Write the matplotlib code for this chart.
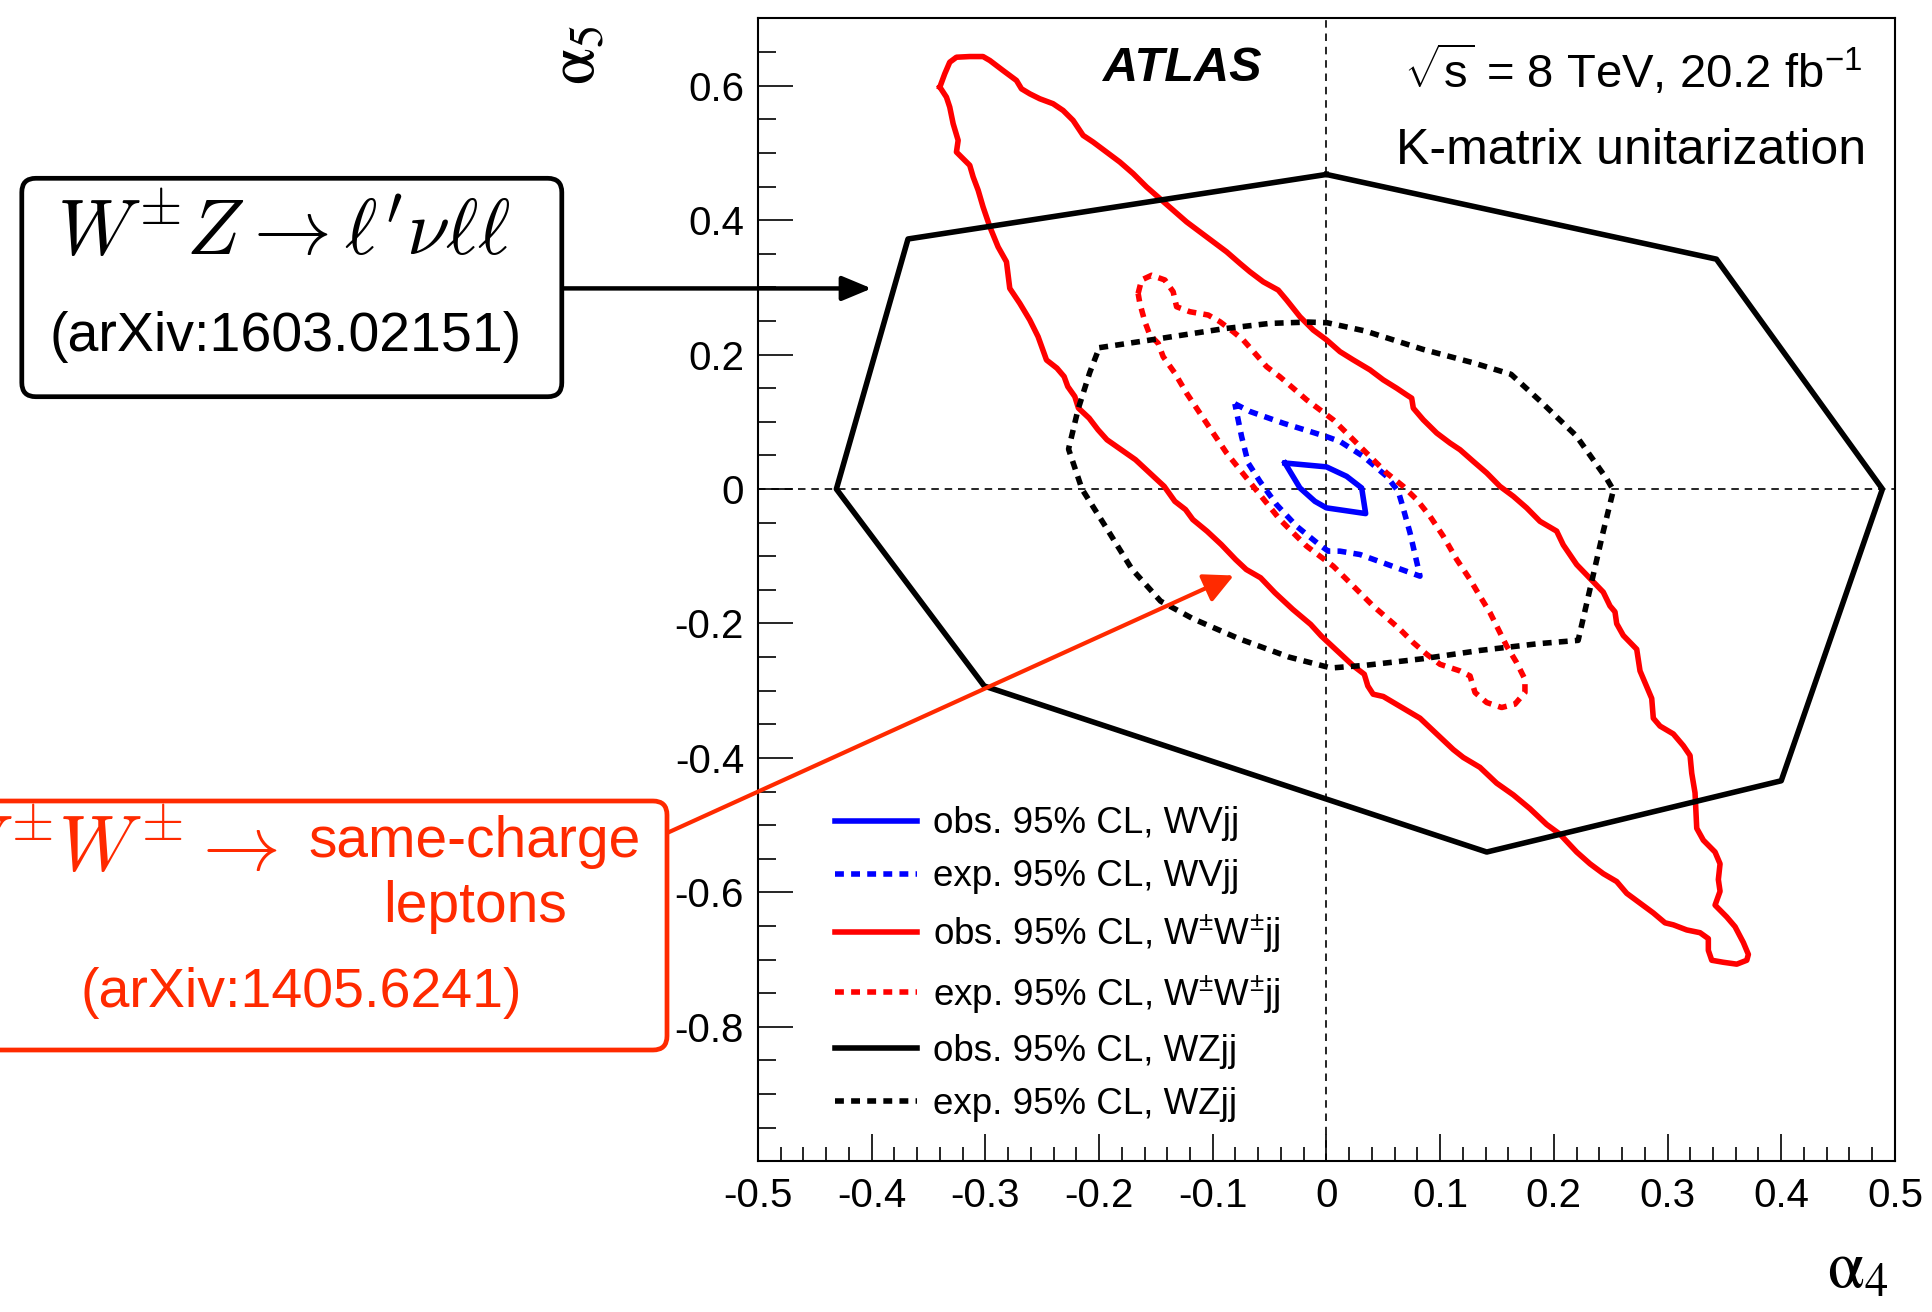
import numpy as np
import matplotlib
matplotlib.use("Agg")
import matplotlib.pyplot as plt
from matplotlib.patches import FancyBboxPatch
from matplotlib.ticker import FixedLocator, MultipleLocator, FuncFormatter

plt.rcParams['font.family'] = ['Liberation Sans', 'DejaVu Sans']
plt.rcParams['mathtext.fontset'] = 'custom'
plt.rcParams['mathtext.rm'] = 'Liberation Sans'
plt.rcParams['mathtext.it'] = 'Liberation Sans:italic'
plt.rcParams['mathtext.bf'] = 'Liberation Sans:bold'

# 95% CL contours in the (alpha4, alpha5) plane, K-matrix unitarization
wv_obs = [(-0.0365, 0.0387), (0.0, 0.033), (0.0178, 0.0189), (0.031, 0.0016),
          (0.0345, -0.0365), (0.0, -0.028), (-0.0101, -0.0183), (-0.0233, 0.0016)]

wv_exp = [(-0.0805, 0.1268), (-0.0673, 0.1154), (-0.038, 0.098), (0.0, 0.078),
          (0.0119, 0.0708), (0.0324, 0.0486), (0.053, 0.0189), (0.0632, -0.0034),
          (0.0662, -0.0206), (0.0735, -0.065), (0.0823, -0.1296), (0.0295, -0.0974),
          (0.0119, -0.0924), (0.0016, -0.0924), (-0.0072, -0.0815), (-0.0262, -0.0553),
          (-0.0438, -0.0232), (-0.0585, 0.0114), (-0.0688, 0.0387), (-0.0746, 0.078)]

ww_obs = [(-0.340, 0.598), (-0.3357, 0.6177), (-0.3313, 0.635), (-0.3254, 0.6424),
          (-0.3137, 0.6434), (-0.302, 0.6434), (-0.296, 0.6375), (-0.2844, 0.6226),
          (-0.2726, 0.6078), (-0.2682, 0.5954), (-0.2609, 0.588), (-0.2521, 0.5806),
          (-0.2404, 0.5732), (-0.2316, 0.5632), (-0.2228, 0.5484), (-0.214, 0.5261),
          (-0.2052, 0.5162), (-0.1934, 0.5013), (-0.1817, 0.4865), (-0.170, 0.4693),
          (-0.1582, 0.4494), (-0.1465, 0.4321), (-0.1348, 0.4148), (-0.123, 0.3974),
          (-0.1113, 0.3826), (-0.0996, 0.3677), (-0.0878, 0.3529), (-0.0761, 0.3357),
          (-0.0673, 0.3232), (-0.0556, 0.3083), (-0.0424, 0.296), (-0.035, 0.2812),
          (-0.0233, 0.2564), (-0.0116, 0.2366), (0.0002, 0.2218), (0.0119, 0.2044),
          (0.0236, 0.1921), (0.0383, 0.1773), (0.05, 0.1624), (0.0618, 0.150),
          (0.0706, 0.140), (0.075, 0.1352), (0.0764, 0.1204), (0.0852, 0.103),
          (0.097, 0.0833), (0.1087, 0.0684), (0.1175, 0.0585), (0.1292, 0.0411),
          (0.141, 0.0239), (0.1526, 0.004), (0.1644, -0.0108), (0.1761, -0.0280),
          (0.1878, -0.048), (0.2025, -0.0626), (0.2083, -0.0831), (0.2201, -0.1124),
          (0.2318, -0.1329), (0.2435, -0.1534), (0.2494, -0.1739), (0.2538, -0.1827),
          (0.2553, -0.2003), (0.2611, -0.2178), (0.2729, -0.2383), (0.2758, -0.2705),
          (0.2817, -0.294), (0.2861, -0.3115), (0.2875, -0.3409), (0.2934, -0.3526),
          (0.3051, -0.3643), (0.3139, -0.3818), (0.3198, -0.3964), (0.3213, -0.4228),
          (0.3242, -0.452), (0.3257, -0.5047), (0.3315, -0.5224), (0.3418, -0.54),
          (0.3462, -0.5575), (0.3447, -0.5809), (0.3462, -0.5984), (0.3418, -0.619),
          (0.3521, -0.6366), (0.3594, -0.6511), (0.3667, -0.6746), (0.3711, -0.6923),
          (0.3697, -0.701), (0.3609, -0.7068), (0.3491, -0.704), (0.3389, -0.701),
          (0.3359, -0.6863), (0.3359, -0.6688), (0.3286, -0.66), (0.3169, -0.6559),
          (0.3051, -0.6483), (0.2978, -0.6453), (0.2875, -0.6306), (0.2758, -0.6161),
          (0.2641, -0.6014), (0.2553, -0.5839), (0.2435, -0.5722), (0.2318, -0.5575),
          (0.2201, -0.54), (0.2054, -0.5135), (0.1937, -0.499), (0.179, -0.4755),
          (0.1644, -0.455), (0.1497, -0.4375), (0.135, -0.414), (0.1204, -0.3993),
          (0.1116, -0.3876), (0.097, -0.3643), (0.0823, -0.3409), (0.0647, -0.3232),
          (0.05, -0.3086), (0.0411, -0.3052), (0.0364, -0.2929), (0.0333, -0.2755),
          (0.0238, -0.2632), (0.0144, -0.2484), (0.0018, -0.2285), (-0.0045, -0.2187),
          (-0.0139, -0.2013), (-0.0296, -0.179), (-0.0453, -0.1543), (-0.0579, -0.132),
          (-0.0705, -0.1197), (-0.0799, -0.1048), (-0.0925, -0.0825), (-0.105, -0.0628),
          (-0.1175, -0.0454), (-0.1239, -0.0306), (-0.1333, -0.0183), (-0.1427, 0.004),
          (-0.1553, 0.0239), (-0.1679, 0.0436), (-0.1805, 0.0585), (-0.193, 0.0733),
          (-0.2009, 0.0882), (-0.2087, 0.1055), (-0.2181, 0.1204), (-0.2213, 0.1376),
          (-0.2275, 0.1525), (-0.2307, 0.1673), (-0.237, 0.1798), (-0.2462, 0.192),
          (-0.2536, 0.2267), (-0.2609, 0.2515), (-0.2697, 0.2763), (-0.2785, 0.2985),
          (-0.2814, 0.338), (-0.2888, 0.3603), (-0.296, 0.39), (-0.302, 0.4197),
          (-0.3063, 0.4445), (-0.3107, 0.4642), (-0.3137, 0.4816), (-0.3225, 0.4964),
          (-0.3254, 0.5013), (-0.3239, 0.5187), (-0.3283, 0.5435), (-0.3313, 0.5682),
          (-0.3342, 0.583)]

ww_exp = [(-0.1656, 0.291), (-0.1626, 0.311), (-0.1538, 0.318), (-0.1421, 0.311),
          (-0.1348, 0.2935), (-0.1318, 0.2712), (-0.1201, 0.2638), (-0.104, 0.2589),
          (-0.0937, 0.249), (-0.082, 0.234), (-0.0732, 0.2218), (-0.0629, 0.202),
          (-0.0526, 0.182), (-0.0409, 0.167), (-0.0292, 0.150), (-0.0174, 0.1327),
          (-0.0057, 0.1179), (0.006, 0.103), (0.0178, 0.0833), (0.0295, 0.0634),
          (0.0412, 0.0436), (0.053, 0.0239), (0.0676, 0.004), (0.0794, -0.0157),
          (0.0911, -0.0405), (0.1028, -0.0702), (0.1146, -0.1048), (0.1263, -0.1345),
          (0.135, -0.1593), (0.1439, -0.184), (0.1512, -0.2087), (0.1585, -0.2335),
          (0.1673, -0.2582), (0.1746, -0.283), (0.1746, -0.3027), (0.1658, -0.320),
          (0.1541, -0.325), (0.141, -0.3176), (0.1307, -0.3027), (0.1263, -0.278),
          (0.1175, -0.2706), (0.0999, -0.2607), (0.0882, -0.2458), (0.0764, -0.2285),
          (0.0647, -0.2087), (0.053, -0.1914), (0.0412, -0.1741), (0.0295, -0.1543),
          (0.0178, -0.1345), (0.006, -0.1147), (-0.0057, -0.0999), (-0.0174, -0.085),
          (-0.0292, -0.0652), (-0.0409, -0.0454), (-0.0526, -0.0207), (-0.0644, 0.004),
          (-0.0761, 0.0288), (-0.0878, 0.0536), (-0.0996, 0.0833), (-0.1113, 0.113),
          (-0.123, 0.1427), (-0.1333, 0.1724), (-0.1436, 0.197), (-0.148, 0.2169),
          (-0.1553, 0.2292), (-0.1597, 0.249), (-0.1641, 0.2763)]

wz_obs = [(0.0, 0.468), (0.343, 0.342), (0.489, 0.0), (0.400, -0.434),
          (0.141, -0.540), (-0.301, -0.293), (-0.431, 0.0), (-0.368, 0.372)]

wz_exp = [(-0.1998, 0.2103), (-0.151, 0.2227), (-0.0903, 0.2385), (-0.0499, 0.2464),
          (-0.0162, 0.2484), (0.0007, 0.2474), (0.0344, 0.235), (0.0849, 0.2078),
          (0.1287, 0.188), (0.1624, 0.1707), (0.1894, 0.1287), (0.2197, 0.0792),
          (0.2467, 0.0148), (0.2524, -0.0015), (0.2433, -0.0643), (0.2332, -0.1385),
          (0.2214, -0.2251), (0.186, -0.2301), (0.1355, -0.24), (0.0849, -0.2524),
          (0.0344, -0.2622), (0.004, -0.2662), (-0.033, -0.2499), (-0.0768, -0.2227),
          (-0.1173, -0.193), (-0.1459, -0.1667), (-0.1712, -0.1188), (-0.1948, -0.0544),
          (-0.215, 0.0), (-0.2268, 0.0594), (-0.2184, 0.1188), (-0.2082, 0.1732)]

labels = ['obs. 95% CL, WVjj', 'exp. 95% CL, WVjj',
          'obs. 95% CL, W$^{\\pm}$W$^{\\pm}$jj', 'exp. 95% CL, W$^{\\pm}$W$^{\\pm}$jj',
          'obs. 95% CL, WZjj', 'exp. 95% CL, WZjj']

xmajor = np.round(np.arange(-0.5, 0.51, 0.1), 2)
ymajor = np.round(np.arange(-0.8, 0.61, 0.2), 2)

red_note = '#ff2a00'
dotted = (0, (1.6, 1.3))

fig = plt.figure(figsize=(19.33, 13.12), dpi=100)
ax = fig.add_axes([0.3921, 0.1149, 0.5882, 0.8710])


def closed(pts):
    a = np.array(pts + pts[:1])
    return a[:, 0], a[:, 1]


ax.axhline(0, color='black', lw=1.2, dashes=(4.5, 3.5), zorder=1)
ax.axvline(0, color='black', lw=1.2, dashes=(4.5, 3.5), zorder=1)

lw = 4.0
styles = [(wv_obs, 'blue', '-'), (wv_exp, 'blue', dotted),
          (ww_obs, 'red', '-'), (ww_exp, 'red', dotted),
          (wz_obs, 'black', '-'), (wz_exp, 'black', dotted)]
handles = []
for (pts, col, ls), lab in zip(styles, labels):
    x, y = closed(pts)
    h, = ax.plot(x, y, color=col, ls=ls, lw=lw, label=lab, zorder=3,
                 dash_capstyle='butt', solid_joinstyle='round')
    handles.append(h)

ax.set_xlim(-0.5, 0.5)
ax.set_ylim(-1.0, 0.7)
ax.xaxis.set_major_locator(FixedLocator(xmajor))
ax.xaxis.set_minor_locator(MultipleLocator(0.02))
ax.yaxis.set_major_locator(FixedLocator(ymajor))
ax.yaxis.set_minor_locator(MultipleLocator(0.05))


def rootfmt(v, pos):
    v = round(v, 2)
    return '0' if v == 0 else '%g' % v


ax.xaxis.set_major_formatter(FuncFormatter(rootfmt))
ax.yaxis.set_major_formatter(FuncFormatter(rootfmt))
ax.tick_params(which='both', direction='in', top=False, right=False, width=1.2)
ax.tick_params(axis='x', which='major', length=19.5, pad=11, labelsize=29)
ax.tick_params(axis='x', which='minor', length=10)
ax.tick_params(axis='y', which='major', length=25, pad=10, labelsize=29)
ax.tick_params(axis='y', which='minor', length=13)
for sp in ax.spines.values():
    sp.set_linewidth(1.5)

ax.text(-0.127, 0.626, 'ATLAS', fontsize=35, fontweight='bold', fontstyle='italic',
        ha='center', va='center')
ax.text(0.270, 0.622, r'$\sqrt{\mathrm{s}}$ = 8 TeV, 20.2 fb$^{-1}$', fontsize=34,
        ha='center', va='center')
ax.text(0.268, 0.503, 'K-matrix unitarization', fontsize=36, ha='center', va='center')

leg = ax.legend(handles=handles, loc='upper left', bbox_to_anchor=(0.0674, 0.3105),
                frameon=False, fontsize=26.5, handlelength=2.25, handletextpad=0.42,
                labelspacing=0.49, borderpad=0, borderaxespad=0)

fig.text(0.2985, 0.9577, r'$\mathrm{\alpha}_{5}$', fontsize=48, rotation=90,
         ha='center', va='center', math_fontfamily='stix')
fig.text(0.961, 0.032, r'$\mathrm{\alpha}_{4}$', fontsize=48,
         ha='center', va='center', math_fontfamily='stix')

# reference boxes for the WZ and same-sign WW analyses
fig.add_artist(FancyBboxPatch((0.218, 9.153), 5.40, 2.184,
                              boxstyle='round,pad=0,rounding_size=0.14',
                              transform=fig.dpi_scale_trans, facecolor='white',
                              edgecolor='black', lw=3.4))
fig.text(0.1467, 0.8214, r"$W^{\pm}Z \rightarrow \ell'\nu\ell\ell$", fontsize=56,
         ha='center', va='center', math_fontfamily='cm')
fig.text(0.148, 0.7434, '(arXiv:1603.02151)', fontsize=40, ha='center', va='center')

fig.add_artist(FancyBboxPatch((-0.5, 2.62), 7.17, 2.49,
                              boxstyle='round,pad=0,rounding_size=0.14',
                              transform=fig.dpi_scale_trans, facecolor='white',
                              edgecolor=red_note, lw=3.4))
fig.text(0.1435, 0.3515, r'$W^{\pm}W^{\pm} \rightarrow$', fontsize=56, color=red_note,
         ha='right', va='center', math_fontfamily='cm')
fig.text(0.2455, 0.358, 'same-charge', fontsize=41, color=red_note, ha='center', va='center')
fig.text(0.2455, 0.309, 'leptons', fontsize=41, color=red_note, ha='center', va='center')
fig.text(0.156, 0.2434, '(arXiv:1405.6241)', fontsize=40, color=red_note,
         ha='center', va='center')

ax.annotate('', xy=(-0.400, 0.2984), xycoords='data', xytext=(562, 1023.6),
            textcoords='figure pixels', annotation_clip=False,
            arrowprops=dict(arrowstyle='-|>,head_length=1.8,head_width=0.75',
                            mutation_scale=10, lw=3.2, color='black',
                            shrinkA=0, shrinkB=0, clip_on=False))
ax.annotate('', xy=(-0.0815, -0.1286), xycoords='data', xytext=(667, 479),
            textcoords='figure pixels', annotation_clip=False,
            arrowprops=dict(arrowstyle='-|>,head_length=1.8,head_width=0.9',
                            mutation_scale=10, lw=3.0, color=red_note,
                            shrinkA=0, shrinkB=0, clip_on=False), zorder=5)

fig.savefig('out.png', dpi=100)
